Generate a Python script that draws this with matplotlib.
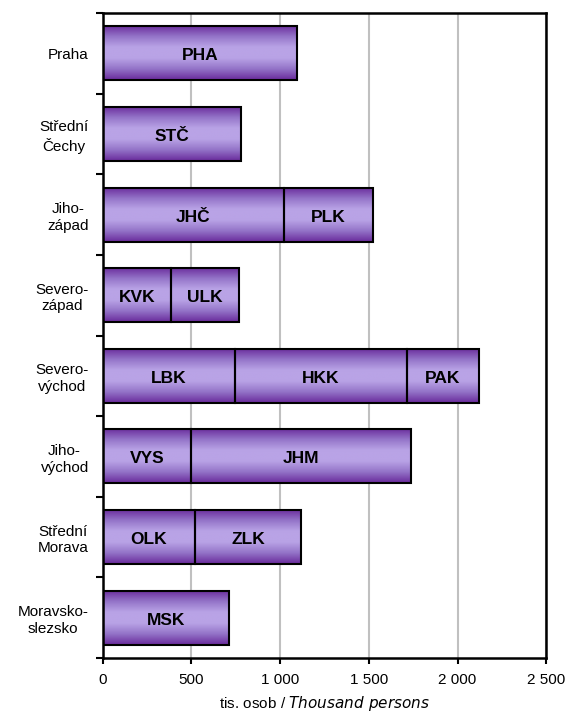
import numpy as np
import matplotlib
matplotlib.use("Agg")
import matplotlib.pyplot as plt
from matplotlib.colors import LinearSegmentedColormap

plt.rcParams['font.family'] = ['Liberation Sans', 'DejaVu Sans']

regions = ["Praha", "Střední\nČechy", "Jiho-\nzápad", "Severo-\nzápad",
           "Severo-\nvýchod", "Jiho-\nvýchod", "Střední\nMorava", "Moravsko-\nslezsko"]
# segments of each region bar: (kraj code, value in thousands)
segments = [
    [("PHA", 1095)],
    [("STČ", 780)],
    [("JHČ", 1024), ("PLK", 498)],
    [("KVK", 385), ("ULK", 385)],
    [("LBK", 744), ("HKK", 969), ("PAK", 408)],
    [("VYS", 498), ("JHM", 1240)],
    [("OLK", 520), ("ZLK", 598)],
    [("MSK", 712)],
]

cmap = LinearSegmentedColormap.from_list(
    "bar", ["#6a2c9c", "#9474c8", "#b9a3e6", "#b9a3e6", "#9474c8", "#6a2c9c"])
grad = np.linspace(0, 1, 64).reshape(-1, 1)

fig = plt.figure(figsize=(5.71, 7.17), dpi=100)
ax = fig.add_axes([0.1797, 0.0823, 0.777, 0.8995])

h = 0.67
for i, segs in enumerate(segments):
    left = 0
    for code, val in segs:
        ax.imshow(grad, cmap=cmap, aspect='auto', interpolation='bicubic',
                  extent=(left, left + val, i + h / 2, i - h / 2), zorder=2)
        ax.add_patch(plt.Rectangle((left, i - h / 2), val, h, fill=False,
                                   edgecolor='black', linewidth=1.5, zorder=3))
        ax.text(left + val / 2, i + 0.03, code, ha='center', va='center',
                fontsize=12.5, fontweight='bold', zorder=4)
        left += val

ax.set_xlim(0, 2500)
ax.set_ylim(len(regions) - 0.5, -0.5)
ax.set_xticks([0, 500, 1000, 1500, 2000, 2500])
ax.set_xticklabels(["0", "500", "1 000", "1 500", "2 000", "2 500"], fontsize=11)
ax.set_yticks(range(len(regions)))
ax.set_yticklabels(regions, fontsize=11, ha='right', multialignment='center',
                   linespacing=1.25)
ax.tick_params(axis='y', length=0, pad=10)
ax.set_yticks(np.arange(len(regions) + 1) - 0.5, minor=True)
ax.tick_params(axis='y', which='minor', length=5, width=1.5, direction='out')
ax.tick_params(axis='x', length=4, width=1.5, direction='out', pad=7)
ax.xaxis.grid(True, color='#c0c0c0', linewidth=1.5, zorder=0)
ax.set_axisbelow(True)
for s in ax.spines.values():
    s.set_linewidth(1.8)

ax.set_xlabel("tis. osob / $\\it{Thousand\\ persons}$", fontsize=11, labelpad=5)

fig.savefig("out.png", dpi=100)
